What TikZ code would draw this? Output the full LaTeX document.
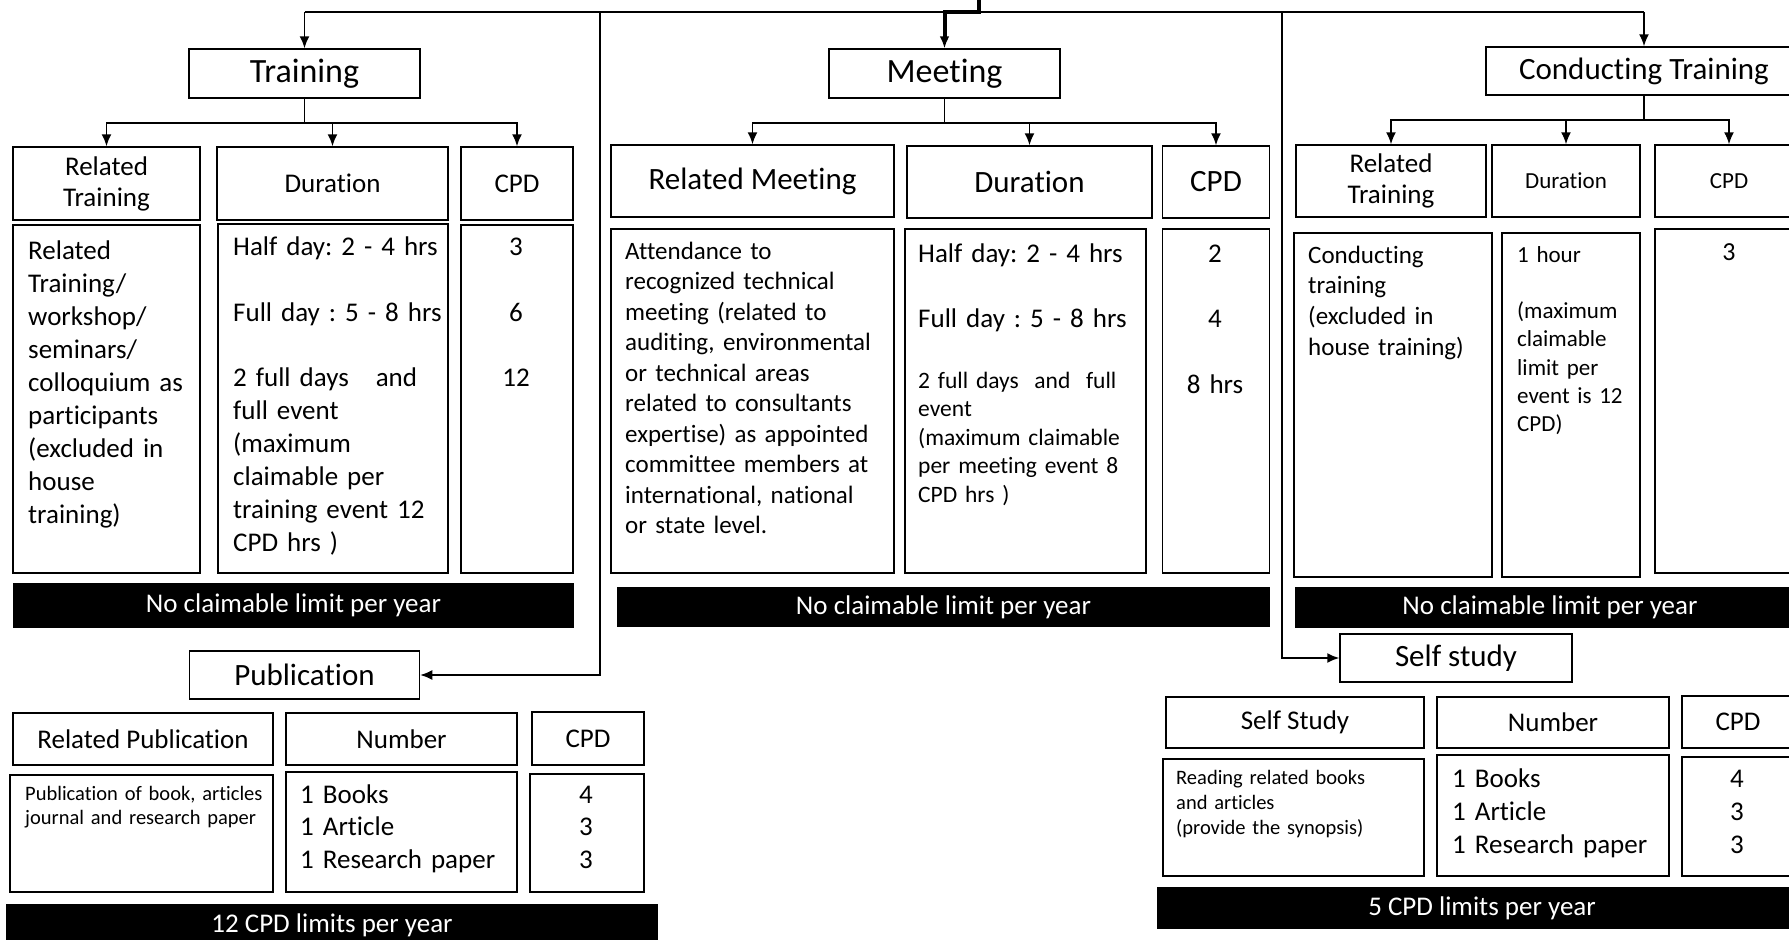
\documentclass[tikz,border=0pt]{standalone}
\usepackage{fontspec}
\setmainfont{Carlito}[Ligatures=CommonOff]
\frenchspacing
\usetikzlibrary{positioning, arrows.meta}

\begin{document}
\begin{tikzpicture}[x=1pt, y=-1pt,
    box/.style={draw, line width=1.5pt, inner sep=0pt},
    head/.style={box, font=\fontsize{34}{41}\selectfont},
    subhead/.style={box, font=\fontsize{31}{38}\selectfont},
    cell/.style={box, align=center, font=\fontsize{27}{31}\selectfont},
    bigcell/.style={cell, font=\fontsize{31}{37}\selectfont},
    smallcell/.style={cell, font=\fontsize{23}{28}\selectfont},
    band/.style={fill=black, text=white, inner sep=0pt, font=\fontsize{27}{33}\selectfont},
    txt/.style={anchor=base west, inner sep=0pt, align=left, font=\fontsize{27}{33}\selectfont},
    ctxt/.style={anchor=base, inner sep=0pt, align=center, text width=90pt, font=\fontsize{27}{33}\selectfont},
    link/.style={line width=1.6pt},
    >={Latex[length=12pt, width=10pt]},
]
    \useasboundingbox (0,0) rectangle (1789,940);

    % nodes
    \node[head, minimum width=231pt, minimum height=49pt] (training) at (304.5,73.5) {Training};
    \node[head, minimum width=231pt, minimum height=49pt] (meeting) at (944.5,73.5) {Meeting};
    \node[subhead, minimum width=316pt, minimum height=48pt] (conducting) at (1644,71) {Conducting Training};
    \node[subhead, minimum width=230pt, minimum height=48pt] (publication) at (304.5,675) {Publication};
    \node[subhead, minimum width=232pt, minimum height=48pt] (selfstudy) at (1456,658) {Self study};

    % training
    \node[cell, minimum width=187pt, minimum height=73pt] (trRelHead) at (106.5,183.5) {Related\\Training};
    \node[cell, minimum width=231pt, minimum height=73pt] (trDurHead) at (332.5,183.5) {Duration};
    \node[cell, minimum width=112pt, minimum height=73pt] (trCpdHead) at (517,183.5) {CPD};
    \node[box, minimum width=187pt, minimum height=348pt] (trRelBody) at (106.5,399) {};
    \node[box, minimum width=230pt, minimum height=349pt] (trDurBody) at (333,398.5) {};
    \node[box, minimum width=112pt, minimum height=348pt] (trCpdBody) at (517,399) {};
    \node[txt, text width=165pt] (trRelText) at (28,259) {Related\\Training/\\workshop/\\seminars/\\colloquium as\\participants\\(excluded in\\house\\training)};
    \node[txt, text width=212pt] (trDurText) at (233,255) {Half day: 2 - 4 hrs\\[33pt]Full day : 5 - 8 hrs\\[32pt]2 full days\ \ \ and\\full event\\(maximum\\claimable per\\training event 12\\CPD hrs )};
    \node[ctxt] (trCpdText) at (516,255) {3\\[33pt]6\\[32pt]12};
    \node[band, minimum width=561pt, minimum height=45pt] (trBand) at (293.5,605.5) {No claimable limit per year};

    % meeting
    \node[bigcell, minimum width=283pt, minimum height=72pt] (mtRelHead) at (752.5,181) {Related Meeting};
    \node[bigcell, minimum width=245pt, minimum height=72pt] (mtDurHead) at (1029.5,182) {Duration};
    \node[bigcell, minimum width=107pt, minimum height=72pt] (mtCpdHead) at (1216,182) {CPD};
    \node[box, minimum width=283pt, minimum height=344pt] (mtRelBody) at (752.5,401) {};
    \node[box, minimum width=241pt, minimum height=344pt] (mtDurBody) at (1025.5,401) {};
    \node[box, minimum width=107pt, minimum height=344pt] (mtCpdBody) at (1216,401) {};
    \node[txt, text width=265pt, font=\fontsize{25}{30.5}\selectfont] (mtRelText) at (625,259) {Attendance to\\recognized technical\\meeting (related to\\auditing, environmental\\or technical areas\\related to consultants\\expertise) as appointed\\committee members at\\international, national\\or state level.};
    \node[txt, text width=225pt] (mtDurTop) at (918,262) {Half day: 2 - 4 hrs\\[32pt]Full day : 5 - 8 hrs};
    \node[txt, text width=225pt, font=\fontsize{23.5}{28.5}\selectfont] (mtDurNote) at (918,388) {2 full days\ \ and\ \ full\\event\\(maximum claimable\\per meeting event 8\\CPD hrs )};
    \node[ctxt] (mtCpdText) at (1215,262) {2\\[32pt]4\\[33pt]8 hrs};
    \node[band, minimum width=653pt, minimum height=40pt] (mtBand) at (943.5,607) {No claimable limit per year};

    % conducting training
    \node[cell, minimum width=190pt, minimum height=72pt] (ctRelHead) at (1391,181) {Related\\Training};
    \node[smallcell, minimum width=148pt, minimum height=72pt] (ctDurHead) at (1566,181) {Duration};
    \node[smallcell, minimum width=148pt, minimum height=72pt] (ctCpdHead) at (1729,181) {CPD};
    \node[box, minimum width=198pt, minimum height=344pt] (ctRelBody) at (1393,405) {};
    \node[box, minimum width=138pt, minimum height=344pt] (ctDurBody) at (1571,405) {};
    \node[box, minimum width=148pt, minimum height=344pt] (ctCpdBody) at (1729,401) {};
    \node[txt, text width=180pt, font=\fontsize{25}{30.7}\selectfont] (ctRelText) at (1308,263) {Conducting\\training\\(excluded in\\house training)};
    \node[txt, text width=120pt, font=\fontsize{23}{28.3}\selectfont] (ctDurText) at (1517,262) {1 hour\\[28.3pt](maximum\\claimable\\limit per\\event is 12\\CPD)};
    \node[ctxt, font=\fontsize{26}{32}\selectfont] (ctCpdText) at (1729,260) {3};
    \node[band, minimum width=510pt, minimum height=41pt] (ctBand) at (1550,607.5) {No claimable limit per year};

    % publication
    \node[cell, minimum width=260pt, minimum height=52pt] (pbRelHead) at (143,739) {Related Publication};
    \node[cell, minimum width=231pt, minimum height=52pt] (pbNumHead) at (401.5,739) {Number};
    \node[cell, minimum width=112pt, minimum height=53pt] (pbCpdHead) at (588,738.5) {CPD};
    \node[box, minimum width=263pt, minimum height=117pt] (pbRelBody) at (141.5,833.5) {};
    \node[box, minimum width=231pt, minimum height=120pt] (pbNumBody) at (401.5,832) {};
    \node[box, minimum width=114pt, minimum height=118pt] (pbCpdBody) at (587,833) {};
    \node[txt, text width=245pt, font=\fontsize{20.5}{24}\selectfont] (pbRelText) at (25,800) {Publication of book, articles\\journal and research paper};
    \node[txt, text width=215pt, font=\fontsize{27}{32.5}\selectfont] (pbNumText) at (300,803) {1 Books\\1 Article\\1 Research paper};
    \node[ctxt, font=\fontsize{27}{32.5}\selectfont] (pbCpdText) at (586,803) {4\\3\\3};
    \node[band, minimum width=652pt, minimum height=42pt] (pbBand) at (332,925) {12 CPD limits per year};

    % self study
    \node[cell, minimum width=258pt, minimum height=51pt] (ssRelHead) at (1295,722.5) {Self Study};
    \node[cell, minimum width=232pt, minimum height=51pt] (ssNumHead) at (1553,722.5) {Number};
    \node[cell, minimum width=112pt, minimum height=52pt] (ssCpdHead) at (1738,722) {CPD};
    \node[box, minimum width=261pt, minimum height=117pt] (ssRelBody) at (1293.5,817.5) {};
    \node[box, minimum width=232pt, minimum height=121pt] (ssNumBody) at (1553,815.5) {};
    \node[box, minimum width=112pt, minimum height=119pt] (ssCpdBody) at (1738,816.5) {};
    \node[txt, text width=240pt, font=\fontsize{20.5}{25}\selectfont] (ssRelText) at (1176,784) {Reading related books\\and articles\\(provide the synopsis)};
    \node[txt, text width=215pt] (ssNumText) at (1452,787) {1 Books\\1 Article\\1 Research paper};
    \node[ctxt] (ssCpdText) at (1737,787) {4\\3\\3};
    \node[band, minimum width=650pt, minimum height=42pt] (ssBand) at (1482,908) {5 CPD limits per year};

    % connections
    \coordinate (src) at (979,0);
    \coordinate (bus) at (979,12);
    \coordinate (busL) at (600,12);
    \coordinate (busR) at (1282,12);
    \draw[link] (training.north |- bus) -- (conducting.north |- bus);
    \draw[link, ->] (bus -| training.north) -- (training.north);
    \draw[link, ->] (bus -| conducting.north) -- (conducting.north);
    \draw[line width=4pt, ->] (src) -- (bus) -| (meeting.north);
    \draw[link, ->] (busL) |- (publication.east);
    \draw[link, ->] (busR) |- (selfstudy.west);

    \foreach \col in {trRelHead, trDurHead, trCpdHead} {
        \draw[link, ->] (training.south) -- ++(0,24) -| (\col.north);
    }
    \foreach \col in {mtRelHead, mtDurHead, mtCpdHead} {
        \draw[link, ->] (meeting.south) -- ++(0,24) -| (\col.north);
    }
    \foreach \col in {ctRelHead, ctDurHead, ctCpdHead} {
        \draw[link, ->] (conducting.south) -- ++(0,24) -| (\col.north);
    }
\end{tikzpicture}
\end{document}
